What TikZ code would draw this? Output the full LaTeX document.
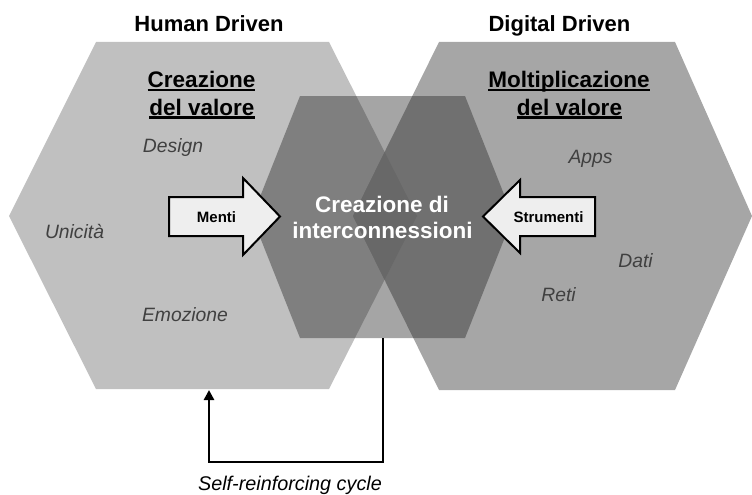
\documentclass[tikz,border=0pt]{standalone}
\usepackage{fontspec}
\setmainfont{Liberation Sans}
\usetikzlibrary{arrows.meta}
\definecolor{hexleft}{RGB}{192,192,192}
\definecolor{hexright}{RGB}{166,166,166}
\definecolor{hexboth}{RGB}{152,152,152}
\definecolor{hexmid}{RGB}{36,36,36}
\definecolor{labelgray}{RGB}{64,64,64}
\definecolor{arrowfill}{RGB}{238,238,238}
\tikzset{
  title/.style={inner sep=0pt, anchor=base, font=\fontsize{22}{26}\selectfont\bfseries},
  heading/.style={inner sep=0pt, anchor=base, font=\fontsize{22.5}{27}\selectfont\bfseries},
  core/.style={inner sep=0pt, anchor=base, text=white, font=\fontsize{22.5}{26}\selectfont\bfseries},
  item/.style={inner sep=0pt, anchor=base, text=labelgray, font=\fontsize{19.3}{23}\selectfont\itshape},
  blocklabel/.style={inner sep=0pt, anchor=base, font=\fontsize{15}{18}\selectfont\bfseries},
  blockarrow/.style={fill=arrowfill, draw=black, line width=2pt, line join=miter},
  uline/.style={line width=2.4pt},
  loop/.style={line width=2.6pt, -{Triangle[length=10pt,width=10pt]}}
}
\begin{document}
\begin{tikzpicture}[x=1pt, y=-1pt]
\useasboundingbox (0,0) rectangle (752,495);

% the three hexagons
\def\lefthex{(96,42) -- (329,42) -- (417,216) -- (329,389) -- (96,389) -- (9,216) -- cycle}
\def\righthex{(439,42) -- (675,42) -- (752,216) -- (675,390) -- (439,390) -- (353,216) -- cycle}
\fill[hexleft] \lefthex;
\fill[hexright] \righthex;
\begin{scope}
  \clip \lefthex;
  \fill[hexboth] \righthex;
\end{scope}
\fill[hexmid, opacity=0.41] (300,96) -- (465,96) -- (513,217) -- (465,338) -- (300,338) -- (252,217) -- cycle;

% column titles
\node[title] (hd) at (209,32) {Human Driven};
\node[title] (dd) at (559.5,32) {Digital Driven};

% underlined headings
\node[heading] (c1) at (201.5,87.5) {Creazione};
\node[heading] (c2) at (202,115) {del valore};
\node[heading] (m1) at (569,87.5) {Moltiplicazione};
\node[heading] (m2) at (569.5,115) {del valore};
\foreach \n in {c1,c2,m1,m2}
  \draw[uline] ([yshift=-2.6pt]\n.base west) -- ([yshift=-2.6pt]\n.base east);

% centre text
\node[core] (ci1) at (382,212) {Creazione di};
\node[core] (ci2) at (382.5,238) {interconnessioni};

% keywords
\node[item] (design) at (173,152) {Design};
\node[item] (unic) at (74.5,238) {Unicità};
\node[item] (emoz) at (185,321) {Emozione};
\node[item] (apps) at (590.5,163) {Apps};
\node[item] (dati) at (635.5,267) {Dati};
\node[item] (reti) at (558.5,301) {Reti};

% block arrows
\draw[blockarrow] (169,197) -- (243,197) -- (243,178) -- (280,216.5) -- (243,255) -- (243,236) -- (169,236) -- cycle;
\draw[blockarrow] (595,197) -- (520,197) -- (520,180) -- (483,216.5) -- (520,253) -- (520,236) -- (595,236) -- cycle;
\node[blocklabel] (menti) at (216.5,222) {Menti};
\node[blocklabel] (strum) at (548.5,222) {Strumenti};

% feedback loop
\coordinate (midbot) at (383,338);
\coordinate (leftbot) at (209,390);
\draw[loop] (midbot) -- ++(0,124) -| (leftbot);
\node[inner sep=0pt, anchor=base, font=\fontsize{19.8}{23}\selectfont\itshape] (cycle) at (290,490) {Self-reinforcing cycle};
\end{tikzpicture}
\end{document}
